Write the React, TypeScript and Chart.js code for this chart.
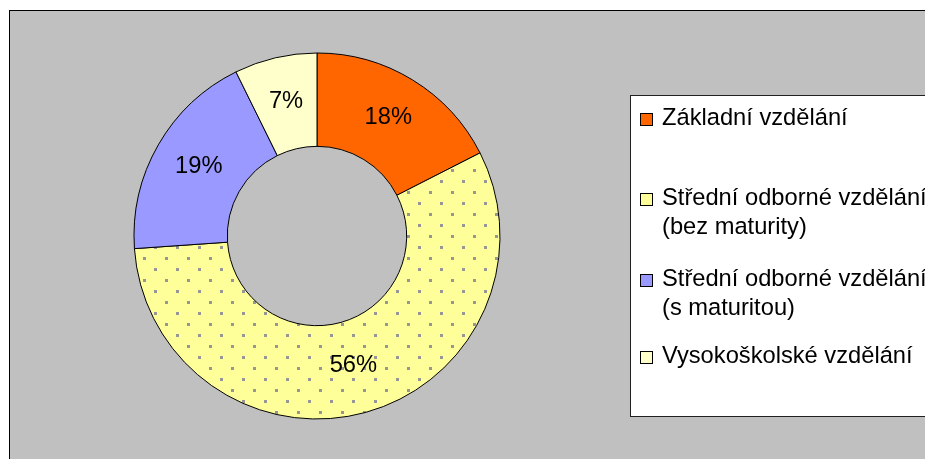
import React, { useEffect, useRef } from "react";
import { Chart, registerables } from "chart.js";
Chart.register(...registerables);

const categories = [
  "Základní vzdělání",
  "Střední odborné vzdělání (bez maturity)",
  "Střední odborné vzdělání (s maturitou)",
  "Vysokoškolské vzdělání",
];
const legendLines = [
  ["Základní vzdělání"],
  ["Střední odborné vzdělání", "(bez maturity)"],
  ["Střední odborné vzdělání", "(s maturitou)"],
  ["Vysokoškolské vzdělání"],
];
const values = [17.5, 56.4, 18.8, 7.3];
const valueLabels = ["18%", "56%", "19%", "7%"];
const colors = ["#FF6600", "#FFFF99", "#9999FF", "#FFFFCC"];

const FONT = "23.7px 'Liberation Sans', Arial, sans-serif";

function makePattern(ctx: CanvasRenderingContext2D) {
  const tile = document.createElement("canvas");
  tile.width = 22;
  tile.height = 22;
  const t = tile.getContext("2d")!;
  t.fillStyle = "#FFFF99";
  t.fillRect(0, 0, 22, 22);
  t.fillStyle = "#969696";
  t.fillRect(0, 4, 3, 3);
  t.fillRect(11, 15, 3, 3);
  return ctx.createPattern(tile, "repeat")!;
}

export default function App() {
  const ref = useRef<HTMLCanvasElement>(null);
  useEffect(() => {
    const canvas = ref.current!;
    const ctx = canvas.getContext("2d")!;
    const pattern = makePattern(ctx);
    const fills: any[] = colors.map((c, i) => (i === 1 ? pattern : c));

    const framePlugin = {
      id: "frame",
      beforeDraw(chart: any) {
        const c = chart.ctx;
        c.save();
        c.fillStyle = "#FFFFFF";
        c.fillRect(0, 0, chart.width, chart.height);
        c.fillStyle = "#C0C0C0";
        c.fillRect(9, 10, chart.width, chart.height);
        c.strokeStyle = "#000000";
        c.lineWidth = 1;
        c.strokeRect(9.5, 10.5, chart.width + 10, chart.height + 10);
        c.restore();
      },
      afterDraw(chart: any) {
        const c = chart.ctx;
        c.save();
        // legend box
        c.fillStyle = "#FFFFFF";
        c.fillRect(630, 95, 310, 322);
        c.strokeStyle = "#202020";
        c.lineWidth = 1;
        c.strokeRect(630.5, 95.5, 310, 321);
        const baselines = [125, 205, 286, 363];
        c.font = FONT;
        c.textBaseline = "alphabetic";
        c.textAlign = "left";
        legendLines.forEach((lines, i) => {
          const b = baselines[i];
          c.fillStyle = fills[i];
          c.fillRect(641, b - 11, 11, 11);
          c.strokeStyle = "#000000";
          c.strokeRect(640.5, b - 11.5, 12, 12);
          c.fillStyle = "#000000";
          lines.forEach((ln, j) => {
            c.fillText(ln, 662, b + j * 29);
          });
        });
        // data labels
        const meta = chart.getDatasetMeta(0);
        c.fillStyle = "#000000";
        c.textAlign = "center";
        c.textBaseline = "middle";
        meta.data.forEach((arc: any, i: number) => {
          const p = arc.tooltipPosition();
          c.fillText(valueLabels[i], p.x, p.y - 2);
        });
        c.restore();
      },
    };

    const chart = new Chart(canvas, {
      type: "doughnut",
      data: {
        labels: categories,
        datasets: [
          {
            data: values,
            backgroundColor: fills,
            borderColor: "#000000",
            borderWidth: 1,
          },
        ],
      },
      options: {
        responsive: false,
        animation: false,
        radius: 183,
        cutout: "49%",
        layout: { padding: { left: 0, right: 291, top: 13, bottom: 0 } },
        plugins: {
          legend: { display: false },
          tooltip: { enabled: false },
        },
      } as any,
      plugins: [framePlugin],
    });
    return () => chart.destroy();
  }, []);
  return (
    <div style={{ position: "absolute", left: 0, top: 0, width: 925, height: 459 }}>
      <canvas ref={ref} width={925} height={459} style={{ display: "block" }} />
    </div>
  );
}
